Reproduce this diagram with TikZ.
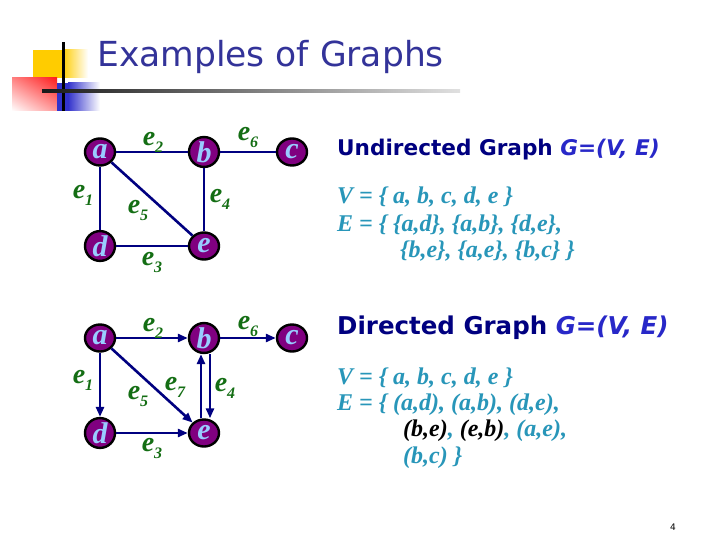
\documentclass[tikz,border=0pt]{standalone}
\usepackage{fontspec}
\setmainfont{Liberation Serif}
\newfontfamily\djsans{DejaVu Sans}
\usetikzlibrary{arrows.meta,shapes.geometric,shadings}
\definecolor{titlenavy}{RGB}{51,51,153}
\definecolor{headnavy}{RGB}{0,0,128}
\definecolor{gblue}{RGB}{40,40,200}
\definecolor{tealtxt}{RGB}{40,150,185}
\definecolor{vpurple}{RGB}{128,0,128}
\definecolor{vletter}{RGB}{153,204,255}
\definecolor{edgenavy}{RGB}{0,0,128}
\definecolor{lblgreen}{RGB}{20,110,20}
\definecolor{decoyellow}{RGB}{255,204,0}
\definecolor{decored}{RGB}{255,30,30}
\definecolor{decoblue}{RGB}{51,51,204}
\newcommand{\elab}[1]{{\fontsize{28}{28}\selectfont\bfseries\itshape e}\raisebox{-7pt}{\fontsize{16}{16}\selectfont\bfseries\itshape #1}}
\begin{document}
\begin{tikzpicture}[x=1pt,y=-1pt,
  vertex/.style={ellipse, draw=black, line width=2.4pt, fill=vpurple,
    minimum width=30pt, minimum height=27pt, inner sep=0pt, text=vletter,
    font=\fontsize{30}{30}\selectfont\bfseries\itshape},
  edgeline/.style={draw=edgenavy, line width=2.6pt},
  arr/.style={edgeline, -{Triangle[length=10pt,width=8pt]}},
  elabel/.style={text=lblgreen, inner sep=0pt},
  tealline/.style={anchor=base west, inner sep=0pt, text=tealtxt,
    font=\fontsize{24}{24}\selectfont\bfseries\itshape},
  headline/.style={anchor=base west, inner sep=0pt, text=headnavy}]
\useasboundingbox[fill=white] (0,0) rectangle (720,540);
% decoration
\fill[decoyellow] (33,50) rectangle (62,78);
\shade[left color=decoyellow, right color=white] (62,50) rectangle (88,78);
\shade[upper right=decored, upper left=decored!55, lower right=decored!45, lower left=white] (12,78) rectangle (57,111);
\fill[decoblue] (57,83) rectangle (68,111);
\shade[left color=decoblue, right color=white] (68,83) rectangle (100,111);
\fill[black] (62,42) rectangle (64.5,111);
\shade[left color=black!90, right color=black!12] (42,89.8) rectangle (460,92.2);
% title
\node[anchor=base west, inner sep=0pt, text=titlenavy, font=\djsans\fontsize{34.5}{34.5}\selectfont] (title) at (97,67) {Examples of Graphs};
% undirected graph
\node[vertex] (ua) at (100,152) {a};
\node[vertex] (ub) at (204,152) {b};
\node[vertex] (uc) at (292,152) {c};
\node[vertex] (ud) at (100,246) {d};
\node[vertex] (ue) at (204,246) {e};
\draw[edgeline] (ua) -- (ub);
\draw[edgeline] (ub) -- (uc);
\draw[edgeline] (ua) -- (ud);
\draw[edgeline] (ud) -- (ue);
\draw[edgeline] (ub) -- (ue);
\draw[edgeline] (ua) -- (ue);
\node[elabel] (ul2) at (153,142) {\elab{2}};
\node[elabel] (ul6) at (248,137) {\elab{6}};
\node[elabel] (ul1) at (83,195) {\elab{1}};
\node[elabel] (ul5) at (138,210) {\elab{5}};
\node[elabel] (ul4) at (220,199) {\elab{4}};
\node[elabel] (ul3) at (152,262) {\elab{3}};
% directed graph
\node[vertex] (da) at (100,338) {a};
\node[vertex] (db) at (204,338) {b};
\node[vertex] (dc) at (292,338) {c};
\node[vertex] (dd) at (100,433) {d};
\node[vertex] (de) at (204,433) {e};
\draw[arr] (da) -- (db);
\draw[arr] (db) -- (dc);
\draw[arr] (da) -- (dd);
\draw[arr] (dd) -- (de);
\draw[arr] (da) -- (de);
\draw[arr] ([xshift=6pt]db.south) -- ([xshift=6pt]de.north);
\draw[arr] ([xshift=-3pt]de.north) -- ([xshift=-3pt]db.south);
\node[elabel] (dl2) at (153,328) {\elab{2}};
\node[elabel] (dl6) at (248,326) {\elab{6}};
\node[elabel] (dl1) at (83,380) {\elab{1}};
\node[elabel] (dl5) at (138,396) {\elab{5}};
\node[elabel] (dl7) at (175,387) {\elab{7}};
\node[elabel] (dl4) at (225,388) {\elab{4}};
\node[elabel] (dl3) at (152,448) {\elab{3}};
% undirected text
\node[headline, font=\djsans\bfseries\fontsize{21.6}{21.6}\selectfont] (uhead) at (337,156) {Undirected Graph \textcolor{gblue}{\itshape G=(V, E)}};
\node[tealline] (uv) at (337,204) {V = \{ a, b, c, d, e \}};
\node[tealline] (ue1) at (337,231.5) {E = \{ \{a,d\}, \{a,b\}, \{d,e\},};
\node[tealline] (ue2) at (400,258) {\{b,e\}, \{a,e\}, \{b,c\} \}};
% directed text
\node[headline, font=\djsans\bfseries\fontsize{24.5}{24.5}\selectfont] (dhead) at (337,334) {Directed Graph \textcolor{gblue}{\itshape G=(V, E)}};
\node[tealline] (dv) at (337,384) {V = \{ a, b, c, d, e \}};
\node[tealline] (de1) at (337,410) {E = \{ (a,d), (a,b), (d,e),};
\node[tealline] (de2) at (403,436.5) {\textcolor{black}{(b,e)}, \textcolor{black}{(e,b)}, (a,e),};
\node[tealline] (de3) at (403,463) {(b,c) \}};
% page number
\node[font=\djsans\fontsize{9}{9}\selectfont, inner sep=0pt] (pnum) at (673,527) {4};
\end{tikzpicture}
\end{document}
